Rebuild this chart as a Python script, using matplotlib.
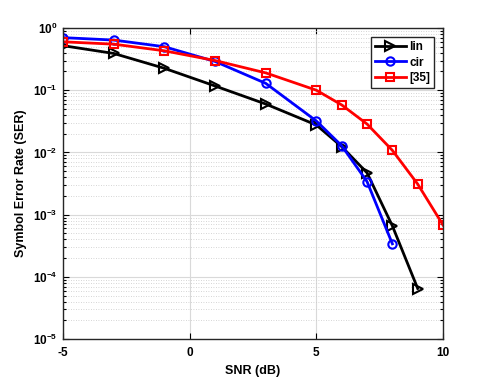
import matplotlib
matplotlib.use("Agg")
import matplotlib.pyplot as plt
from matplotlib.ticker import LogLocator, NullFormatter

plt.rcParams['font.family'] = ['Liberation Sans', 'DejaVu Sans']
plt.rcParams['font.weight'] = 'bold'

snr_lin = [-5, -3, -1, 1, 3, 5, 6, 7, 8, 9]
ser_lin = [0.52, 0.39, 0.225, 0.117, 0.060, 0.0276, 0.0124, 0.0047, 6.6e-4, 6.5e-5]

snr_cir = [-5, -3, -1, 1, 3, 5, 6, 7, 8]
ser_cir = [0.70, 0.64, 0.50, 0.29, 0.129, 0.032, 0.0128, 0.0034, 3.4e-4]

snr_ref = [-5, -3, -1, 1, 3, 5, 6, 7, 8, 9, 10]
ser_ref = [0.60, 0.55, 0.43, 0.30, 0.19, 0.100, 0.058, 0.0286, 0.0108, 0.0031, 6.8e-4]

labels = ['lin', 'cir', '[35]']
xticks = [-5, 0, 5, 10]

fig = plt.figure(figsize=(4.89, 3.81), dpi=100)
ax = fig.add_axes([0.129, 0.110, 0.777, 0.8165])

ax.semilogy(snr_lin, ser_lin, color='black', lw=2, marker='>', ms=7,
            mfc='none', mew=1.5, label=labels[0])
ax.semilogy(snr_cir, ser_cir, color='blue', lw=2, marker='o', ms=6,
            mfc='none', mew=1.5, label=labels[1])
ax.semilogy(snr_ref, ser_ref, color='red', lw=2, marker='s', ms=5.5,
            mfc='none', mew=1.5, label=labels[2])

ax.set_xlim(-5, 10)
ax.set_ylim(1e-5, 1)
ax.set_xticks(xticks)
ax.set_xticklabels([str(t) for t in xticks])
ax.yaxis.set_major_locator(LogLocator(base=10, numticks=10))
ax.yaxis.set_minor_locator(LogLocator(base=10, subs=range(2, 10), numticks=100))
ax.yaxis.set_minor_formatter(NullFormatter())

ax.grid(True, which='major', color='#d9d9d9', lw=0.8, ls='-')
ax.grid(True, which='minor', axis='y', color='#c8c8c8', lw=0.6, ls=(0, (1, 2)))
ax.set_axisbelow(True)

ax.tick_params(which='both', direction='in', top=True, right=True, labelsize=8.5, width=0.8)
ax.tick_params(which='major', length=4)
ax.tick_params(which='minor', length=2)
ax.tick_params(axis='x', pad=6)
ax.tick_params(axis='y', pad=4)
for s in ax.spines.values():
    s.set_linewidth(1.0)
    s.set_color('#262626')

ax.set_xlabel('SNR (dB)', fontsize=9, fontweight='bold', labelpad=4)
ax.set_ylabel('Symbol Error Rate (SER)', fontsize=9, fontweight='bold')

leg = ax.legend(loc='upper right', fontsize=8.5, frameon=True, fancybox=False,
                edgecolor='#262626', framealpha=1, handlelength=2.6,
                borderaxespad=0.8, borderpad=0.3, handletextpad=0.3,
                labelspacing=0.3)
leg.get_frame().set_linewidth(1.0)

fig.savefig('out.png', dpi=100)
